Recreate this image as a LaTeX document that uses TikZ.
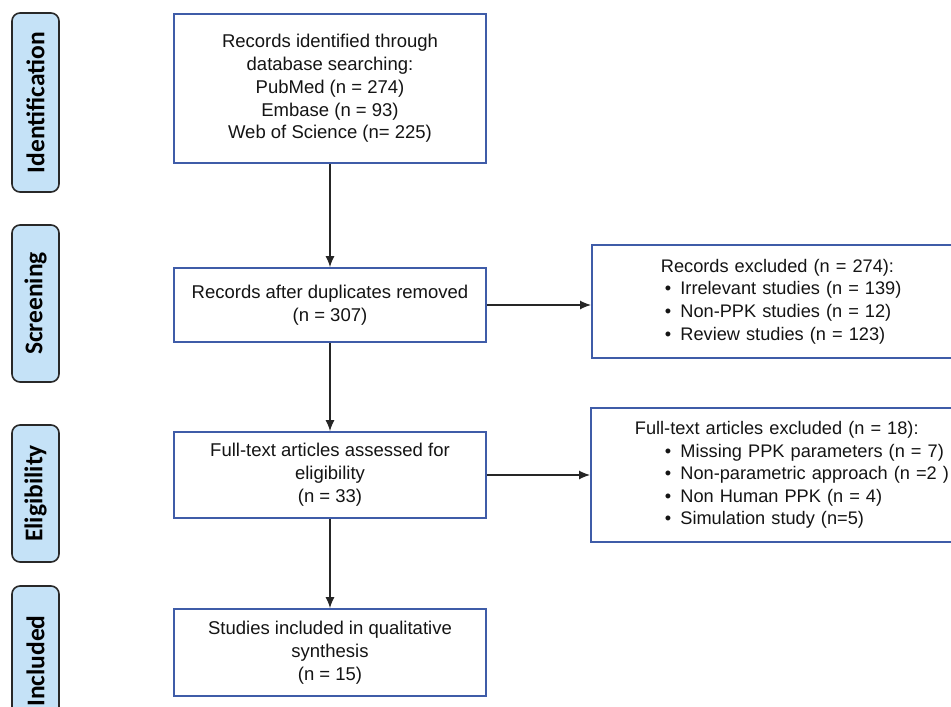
\documentclass[tikz,border=0pt]{standalone}
\usepackage{fontspec}
\setmainfont{Liberation Sans}
\newfontfamily\stagefont{Carlito}
\usetikzlibrary{arrows.meta}
\definecolor{boxblue}{RGB}{63,92,168}
\definecolor{stagefill}{RGB}{197,226,247}
\definecolor{stageline}{RGB}{40,40,40}
\definecolor{txt}{RGB}{20,20,20}
\tikzset{
  stagebox/.style={draw=stageline, line width=1.6pt, fill=stagefill, rounded corners=8pt,
    rotate=90, minimum height=47pt, inner sep=0pt,
    font=\stagefont\bfseries\fontsize{25.5}{30}\selectfont, text=black},
  flowbox/.style={draw=boxblue, line width=1.8pt, fill=white, minimum width=312pt,
    align=center, inner sep=0pt, text=txt,
    font=\fontsize{18.5}{22.8}\selectfont},
  exclbox/.style={draw=boxblue, line width=1.8pt, fill=white, anchor=west,
    align=left, inner ysep=0pt, text=txt, text width=360pt,
    font=\fontsize{18.2}{22.6}\selectfont},
  flowarrow/.style={draw=black!85, line width=1.2pt, -{Latex[length=11pt,width=9pt]}}
}
\newcommand{\bul}[1]{\hspace*{#1}\makebox[15.5pt][l]{\textbullet}}
\begin{document}
\begin{tikzpicture}[x=1pt,y=-1pt]
\clip (0,0) rectangle (951,707);
\fill[white] (0,0) rectangle (951,707);

% stage labels
\node[stagebox, minimum width=179pt] (sid) at (35.5,102.5) {Identification};
\node[stagebox, minimum width=157pt] (ssc) at (35.5,303.5) {Screening};
\node[stagebox, minimum width=137pt] (sel) at (35.5,493.5) {Eligibility};
\node[stagebox, minimum width=150pt] (sin) at (35.5,661) {Included};

% main flow
\node[flowbox, minimum height=149pt] (b1) at (330,88.5)
  {Records identified through\\database searching:\\PubMed (n = 274)\\Embase (n = 93)\\Web of Science (n= 225)};
\node[flowbox, minimum height=74pt] (b2) at (330,305)
  {Records after duplicates removed\\(n = 307)};
\node[flowbox, minimum height=86pt] (b3) at (330,475)
  {Full-text articles assessed for\\eligibility\\(n = 33)};
\node[flowbox, minimum height=87pt] (b4) at (330,652.5)
  {Studies included in qualitative\\synthesis\\(n = 15)};

% exclusion boxes
\node[exclbox, inner xsep=69pt, minimum height=113pt] (r1) at (591,301.5)
  {Records excluded (n = 274):\\
   \bul{4pt}Irrelevant studies (n = 139)\\
   \bul{4pt}Non-PPK studies (n = 12)\\
   \bul{4pt}Review studies (n = 123)};
\node[exclbox, inner xsep=44pt, minimum height=134pt] (r2) at (590,475)
  {Full-text articles excluded (n = 18):\\
   \bul{30pt}Missing PPK parameters (n = 7)\\
   \bul{30pt}Non-parametric approach (n =2 )\\
   \bul{30pt}Non Human PPK (n = 4)\\
   \bul{30pt}Simulation study (n=5)};

% connectors
\draw[flowarrow] (b1) -- (b2);
\draw[flowarrow] (b2) -- (b3);
\draw[flowarrow] (b3) -- (b4);
\draw[flowarrow] (b2.east) -- (b2.east -| r1.west);
\draw[flowarrow] (b3.east) -- (b3.east -| r2.west);
\end{tikzpicture}
\end{document}
